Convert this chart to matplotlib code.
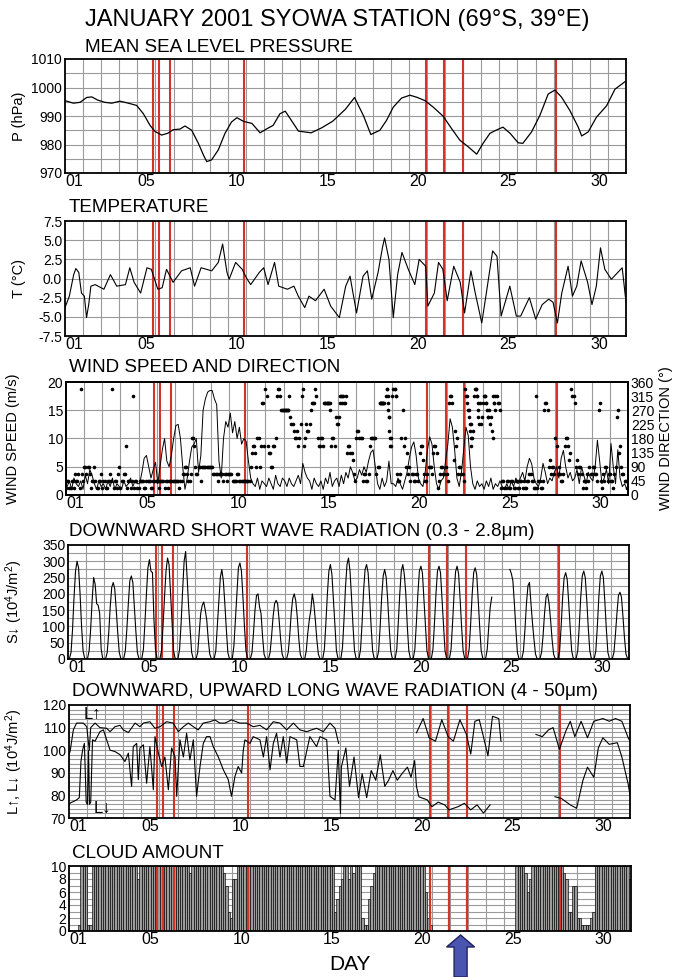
import numpy as np
import matplotlib
matplotlib.use('Agg')
import matplotlib.pyplot as plt
from matplotlib.patches import Polygon
from matplotlib.transforms import IdentityTransform

plt.rcParams['font.family'] = ['Liberation Sans', 'DejaVu Sans']
plt.rcParams['mathtext.default'] = 'regular'
plt.rcParams['axes.unicode_minus'] = False

# ------------------------------------------------------------------ data
event_days = [5.88, 6.21, 6.80, 10.89, 20.93, 21.94, 22.97, 28.11]
tick_days = [1, 5, 10, 15, 20, 25, 30]
tick_labels = ['01', '05', '10', '15', '20', '25', '30']
arrow_day = 22.6

# mean sea level pressure (hPa)
pres_day = [1.0, 1.46, 1.83, 2.2, 2.48, 2.8, 3.2, 3.58, 4.04, 4.5, 4.96, 5.33, 5.7,
            5.97, 6.34, 6.7, 6.98, 7.35, 7.63, 8.0, 8.37, 8.65, 8.83, 9.1, 9.47,
            9.84, 10.2, 10.5, 10.87, 11.33, 11.78, 12.15, 12.5, 12.88, 13.17, 13.9,
            14.6, 15.2, 15.8, 16.5, 17.0, 17.5, 17.9, 18.4, 18.77, 19.14, 19.6,
            20.06, 20.43, 20.89, 21.35, 21.9, 22.36, 22.82, 23.28, 23.75, 24.1,
            24.48, 24.75, 25.2, 25.6, 26.04, 26.3, 26.78, 27.24, 27.7, 28.07, 28.44,
            28.9, 29.36, 29.55, 29.91, 30.37, 30.93, 31.39, 32.0]
pres_hpa = [995.4, 994.5, 994.8, 996.5, 996.7, 995.6, 994.8, 994.5, 995.2, 994.5,
            993.7, 990.8, 986.7, 984.6, 983.3, 984.0, 985.2, 985.4, 986.5, 985.0,
            980.4, 976.3, 974.0, 974.6, 978.1, 983.9, 987.9, 989.4, 988.1, 987.4,
            984.1, 985.5, 986.7, 990.8, 991.7, 984.7, 984.1, 985.9, 988.2, 992.4,
            996.5, 990.0, 983.5, 985.0, 988.5, 993.1, 996.3, 997.3, 996.6, 995.4,
            993.1, 989.9, 985.6, 981.5, 979.2, 976.6, 980.4, 983.9, 984.8, 986.1,
            983.9, 980.6, 980.4, 984.4, 990.2, 997.7, 999.1, 996.6, 991.9, 986.1,
            983.0, 984.4, 989.6, 993.6, 999.4, 1002.3]

# air temperature (deg C)
temp_day = [1.00, 1.24, 1.48, 1.60, 1.76, 1.91, 2.07, 2.19, 2.31, 2.43, 2.67, 3.15,
            3.51, 3.86, 4.34, 4.58, 4.82, 5.18, 5.53, 5.77, 6.13, 6.37, 6.61, 6.97,
            7.44, 7.92, 8.16, 8.52, 9.11, 9.47, 9.71, 9.95, 10.07, 10.43, 10.79,
            11.02, 11.26, 11.74, 11.98, 12.22, 12.58, 12.81, 13.29, 13.65, 13.89,
            14.25, 14.48, 14.84, 15.32, 15.68, 16.16, 16.51, 16.75, 17.11, 17.47,
            17.71, 17.95, 18.30, 18.54, 18.66, 18.90, 19.14, 19.38, 19.62, 19.97,
            20.33, 20.57, 20.93, 21.05, 21.41, 21.64, 21.88, 22.12, 22.48, 22.84,
            23.08, 23.43, 23.67, 24.03, 24.27, 24.63, 24.87, 25.10, 25.58, 25.94,
            26.18, 26.66, 27.01, 27.37, 27.73, 27.97, 28.21, 28.45, 28.80, 29.04,
            29.28, 29.52, 29.88, 30.12, 30.36, 30.59, 30.83, 31.19, 31.43, 31.79, 32.0]
temp_c = [-3.8, -2.3, 0.5, 1.3, 0.8, -1.9, -2.3, -5.1, -3.4, -1.0, -0.8, -1.4,
          0.5, -1.0, -0.8, 1.4, -0.5, -1.9, 1.4, 1.2, -1.4, -1.2, 1.2, -0.5,
          1.0, 1.4, -1.0, 1.4, 1.0, 2.1, 4.5, 0.8, -0.1, 2.1, 1.2,
          0.1, -0.8, 0.8, 1.4, -0.8, 2.1, -1.0, -1.4, -1.0, -2.3,
          -3.8, -2.3, -2.9, -1.4, -3.6, -5.1, -1.0, 0.3, -4.5, 0.3,
          1.0, -2.7, 0.8, 4.0, 5.3, 2.5, -5.1, 0.5, 3.4, 1.2,
          -0.8, 2.5, 1.6, -3.6, -1.9, 2.1, 1.2, -2.9, 1.6, -0.5,
          -4.5, 1.0, -1.9, -5.8, -2.1, 3.6, 2.9, -4.9, -1.0, -4.9,
          -4.9, -2.5, -5.3, -3.4, -2.7, -3.1, -5.8, -1.9, 1.6, -2.3,
          -1.0, 2.3, -0.5, -3.4, -1.0, 4.0, 1.2, -0.1, 0.5, 1.4, -3.1]

# wind speed (m/s), eight 3-hourly values per day
wind_speed = [
    [1.5, 2.5, 1.0, 3.0, 2.0, 1.5, 2.5, 1.0],
    [3.5, 2.0, 4.5, 3.5, 2.0, 1.0, 2.5, 1.5],
    [2.0, 1.0, 2.5, 1.5, 3.0, 1.0, 2.0, 1.5],
    [1.0, 2.5, 1.5, 2.0, 3.0, 1.5, 2.5, 2.0],
    [2.0, 4.0, 6.5, 7.0, 5.0, 3.0, 4.5, 5.8],
    [2.0, 5.0, 8.0, 10.0, 6.0, 5.0, 7.0, 10.0],
    [12.3, 12.5, 10.0, 5.0, 1.0, 3.0, 6.0, 8.5],
    [9.0, 10.0, 4.0, 7.0, 15.0, 17.0, 18.2, 18.5],
    [18.5, 17.0, 16.0, 6.0, 3.0, 10.0, 13.0, 12.0],
    [14.5, 11.0, 13.0, 10.0, 12.0, 9.0, 10.0, 9.5],
    [6.0, 3.0, 2.0, 1.5, 3.0, 1.0, 2.5, 2.0],
    [1.5, 3.0, 2.0, 1.0, 3.5, 2.0, 1.5, 3.0],
    [2.5, 1.5, 3.0, 2.0, 1.5, 2.5, 3.5, 2.0],
    [5.6, 4.0, 3.0, 2.5, 1.0, 3.0, 2.0, 1.5],
    [2.5, 1.0, 3.0, 2.0, 4.0, 1.5, 2.5, 3.0],
    [1.5, 3.5, 2.0, 4.0, 3.0, 5.0, 4.0, 2.5],
    [3.0, 4.5, 3.5, 5.0, 4.0, 6.0, 7.5, 8.0],
    [5.0, 2.0, 1.0, 3.0, 1.5, 2.5, 6.0, 2.0],
    [2.0, 1.5, 3.0, 2.0, 1.0, 2.5, 4.0, 6.5],
    [8.5, 9.4, 7.0, 3.0, 2.0, 1.5, 4.0, 8.0],
    [10.3, 9.0, 5.0, 2.0, 1.0, 2.5, 3.0, 6.0],
    [9.0, 13.5, 12.0, 8.0, 3.0, 1.5, 4.0, 8.0],
    [12.0, 10.5, 5.0, 2.0, 1.0, 2.5, 1.5, 2.0],
    [1.0, 2.5, 1.5, 3.0, 1.0, 2.0, 1.5, 2.5],
    [1.5, 1.0, 2.0, 1.0, 2.5, 1.5, 3.0, 2.0],
    [3.0, 4.0, 2.5, 5.0, 6.5, 5.5, 3.0, 2.0],
    [1.5, 3.0, 5.6, 4.0, 2.0, 3.0, 2.5, 4.0],
    [5.0, 3.0, 6.5, 7.9, 5.0, 3.0, 4.0, 2.5],
    [3.0, 4.5, 2.0, 5.0, 3.5, 2.0, 4.0, 3.0],
    [2.5, 5.0, 9.7, 6.0, 2.0, 3.0, 4.5, 2.0],
    [9.1, 5.0, 2.0, 8.0, 3.0, 1.5, 2.0, 1.0],
]

# wind direction (deg) reported at hh:30 of each 3-hour block
wind_dir = [
    [45, 22.5, 45, 22.5, 45, 67.5, 337.5, 45],
    [90, 90, 67.5, 45, 90, 22.5, 45, 67.5],
    [45, 22.5, 45, 67.5, 337.5, 45, 22.5, 90],
    [45, 67.5, 157.5, 45, 22.5, 315, 45, 22.5],
    [45, 45, 22.5, 45, 45, 22.5, 45, 45],
    [45, 45, 45, 22.5, 45, 45, 45, 45],
    [45, 45, 45, 67.5, 90, 67.5, 45, 180],
    [157.5, 67.5, 90, 45, 90, 90, 90, 90],
    [90, 67.5, 67.5, 67.5, 67.5, 45, 67.5, 67.5],
    [67.5, 45, 45, 67.5, 45, 45, 45, 45],
    [45, 90, 157.5, 135, 180, 90, 292.5, 157.5],
    [315, 135, 90, 157.5, 180, 337.5, 315, 270],
    [270, 270, 315, 225, 202.5, 180, 157.5, 225],
    [337.5, 180, 202.5, 225, 292.5, 292.5, 315, 157.5],
    [180, 157.5, 292.5, 292.5, 270, 180, 157.5, 225],
    [247.5, 315, 292.5, 315, 157.5, 135, 112.5, 45],
    [202.5, 180, 180, 67.5, 45, 67.5, 180, 180],
    [180, 90, 292.5, 292.5, 292.5, 337.5, 247.5, 180],
    [337.5, 315, 45, 67.5, 270, 180, 135, 90],
    [67.5, 45, 67.5, 45, 157.5, 112.5, 45, 67.5],
    [90, 67.5, 157.5, 135, 45, 90, 67.5, 90],
    [45, 315, 292.5, 202.5, 180, 90, 67.5, 45],
    [315, 270, 225, 202.5, 337.5, 315, 292.5, 247.5],
    [315, 292.5, 270, 247.5, 180, 315, 292.5, 270],
    [45, 22.5, 45, 22.5, 45, 22.5, 45, 22.5],
    [45, 22.5, 22.5, 45, 67.5, 45, 22.5, 315],
    [45, 22.5, 45, 292.5, 270, 112.5, 90, 67.5],
    [157.5, 90, 45, 67.5, 180, 157.5, 135, 315],
    [292.5, 112.5, 90, 67.5, 45, 22.5, 45, 67.5],
    [90, 67.5, 45, 292.5, 22.5, 45, 90, 67.5],
    [45, 22.5, 90, 270, 157.5, 67.5, 45, 22.5],
]
# wind direction (deg) reported at the start of each 3-hour block
wind_dir_b = [
    [22.5, 45, 22.5, 45, 67.5, 45, 22.5, 67.5],
    [90, 67.5, 90, 22.5, 45, 45, 22.5, 45],
    [22.5, 45, 22.5, 45, 45, 22.5, 45, 67.5],
    [22.5, 45, 67.5, 22.5, 45, 45, 22.5, 45],
    [22.5, 45, 45, 22.5, 45, 45, 22.5, 45],
    [45, 22.5, 45, 45, 45, 22.5, 45, 45],
    [45, 45, 22.5, 45, 67.5, 90, 45, 67.5],
    [180, 90, 67.5, 90, 90, 90, 90, 90],
    [90, 67.5, 67.5, 45, 67.5, 67.5, 67.5, 45],
    [67.5, 67.5, 45, 45, 67.5, 45, 45, 45],
    [45, 45, 135, 157.5, 90, 180, 157.5, 292.5],
    [337.5, 157.5, 135, 90, 157.5, 315, 337.5, 270],
    [270, 270, 270, 247.5, 225, 180, 202.5, 180],
    [315, 157.5, 225, 202.5, 270, 292.5, 337.5, 180],
    [157.5, 180, 292.5, 292.5, 292.5, 157.5, 180, 247.5],
    [225, 292.5, 315, 292.5, 135, 157.5, 135, 67.5],
    [180, 202.5, 180, 45, 67.5, 45, 157.5, 180],
    [180, 67.5, 90, 292.5, 292.5, 315, 270, 157.5],
    [315, 337.5, 67.5, 45, 180, 157.5, 90, 67.5],
    [45, 67.5, 45, 67.5, 135, 157.5, 67.5, 45],
    [90, 90, 135, 157.5, 22.5, 67.5, 90, 67.5],
    [67.5, 292.5, 315, 112.5, 157.5, 67.5, 90, 67.5],
    [337.5, 292.5, 247.5, 180, 315, 337.5, 270, 225],
    [292.5, 315, 247.5, 225, 202.5, 292.5, 315, 292.5],
    [22.5, 45, 22.5, 45, 22.5, 45, 22.5, 45],
    [22.5, 45, 45, 22.5, 45, 67.5, 45, 22.5],
    [22.5, 45, 22.5, 270, 292.5, 90, 67.5, 90],
    [180, 67.5, 67.5, 45, 157.5, 180, 112.5, 337.5],
    [315, 90, 67.5, 90, 22.5, 45, 67.5, 90],
    [67.5, 90, 67.5, 270, 45, 67.5, 90, 45],
    [67.5, 45, 67.5, 247.5, 135, 90, 67.5, 45],
]
# additional hourly direction reports during the veering episodes
extra_dir_day = [18.72, 18.75, 18.78, 18.80, 18.83, 18.86, 18.90, 19.15, 19.18,
                 23.10, 23.25, 23.28, 23.30, 23.33, 23.36, 23.60, 23.65, 23.70,
                 23.75, 23.80, 24.10, 24.15, 24.20, 24.30, 24.55, 24.60, 24.65,
                 12.95, 13.05, 13.15, 13.25, 15.30, 15.38, 15.45, 15.55, 16.10,
                 16.20, 16.30, 18.30, 18.38, 18.45, 18.50]
extra_dir_deg = [337.5, 315, 292.5, 247.5, 202.5, 180, 157.5, 337.5, 315,
                 315, 270, 225, 202.5, 180, 157.5, 337.5, 315, 292.5,
                 247.5, 225, 315, 292.5, 270, 247.5, 315, 292.5, 270,
                 270, 270, 270, 270, 292.5, 292.5, 292.5, 292.5, 315,
                 292.5, 315, 292.5, 292.5, 292.5, 292.5]

# downward short wave radiation, twelve 2-hourly values per day
sw_down = [
    [0, 2, 20, 90, 190, 270, 300, 280, 200, 100, 25, 3],
    [0, 3, 25, 90, 180, 250, 230, 170, 165, 140, 30, 3],
    [0, 2, 20, 80, 160, 220, 235, 215, 150, 80, 20, 2],
    [0, 3, 25, 90, 170, 240, 255, 235, 160, 85, 20, 2],
    [0, 3, 30, 110, 200, 280, 305, 270, 265, 120, 30, 3],
    [0, 2, 25, 100, 190, 270, 310, 290, 200, 110, 25, 3],
    [0, 3, 30, 110, 210, 300, 330, 250, 160, 90, 20, 2],
    [0, 2, 20, 80, 140, 165, 175, 150, 120, 60, 15, 2],
    [0, 3, 25, 100, 170, 250, 275, 240, 170, 90, 20, 2],
    [0, 3, 40, 120, 200, 280, 295, 270, 190, 100, 25, 3],
    [0, 2, 20, 80, 150, 195, 200, 160, 140, 70, 15, 2],
    [0, 2, 20, 70, 130, 170, 180, 170, 120, 60, 15, 2],
    [0, 2, 20, 70, 140, 185, 200, 180, 130, 65, 15, 2],
    [0, 2, 25, 80, 120, 150, 200, 170, 120, 60, 15, 2],
    [0, 3, 30, 110, 200, 270, 290, 260, 180, 100, 25, 3],
    [0, 3, 35, 120, 220, 290, 310, 270, 190, 100, 25, 3],
    [0, 3, 30, 110, 210, 275, 290, 265, 190, 100, 25, 3],
    [0, 3, 25, 100, 190, 255, 275, 250, 180, 95, 25, 3],
    [0, 3, 30, 110, 200, 270, 290, 260, 200, 100, 25, 3],
    [0, 3, 30, 110, 200, 270, 285, 265, 185, 100, 25, 3],
    [0, 3, 30, 110, 200, 270, 285, 265, 185, 100, 25, 3],
    [0, 3, 30, 110, 200, 268, 285, 262, 185, 98, 25, 3],
    [0, 3, 30, 108, 198, 265, 280, 260, 182, 98, 25, 3],
    [0, 3, 30, 100, 160, 190, np.nan, np.nan, np.nan, np.nan, np.nan, np.nan],
    [np.nan, np.nan, np.nan, np.nan, np.nan, 275, 262, 240, 170, 90, 20, 2],
    [0, 3, 25, 90, 170, 225, 235, 170, 110, 60, 15, 2],
    [0, 2, 20, 70, 140, 190, 200, 170, 120, 60, 15, 2],
    [0, 3, 25, 100, 190, 250, 265, 245, 175, 95, 25, 3],
    [0, 3, 25, 100, 190, 255, 270, 250, 180, 95, 25, 3],
    [0, 3, 25, 100, 190, 255, 270, 250, 175, 90, 20, 2],
    [0, 2, 20, 75, 140, 195, 205, 190, 130, 65, 15, 2],
]

# upward long wave radiation (10^4 J/m^2); NaN marks missing data
lw_up_day = [1.0, 1.06, 1.24, 1.42, 1.79, 1.98, 2.12, 2.20, 2.44, 2.71, 3.08, 3.27,
             3.54, 3.82, 4.00, 4.28, 4.65, 4.92, 5.11, 5.47, 5.75, 6.03, 6.39, 6.76,
             7.04, 7.32, 7.59, 7.87, 8.14, 8.42, 8.79, 9.06, 9.34, 9.62, 9.98, 10.44,
             10.81, 11.18, 11.55, 11.92, 12.29, 12.66, 13.03, 13.40, 13.76, 14.13,
             14.41, 14.68, 15.05, 15.42, 15.70, 15.90, 16.0,
             20.2, 20.57, 20.9, 21.25, 21.6, 21.95, 22.24, 22.6, 22.96, 23.2, 23.43,
             23.67, 23.9, 24.15, 24.4, 24.75, 24.87, 25.0,
             26.8, 27.15, 27.5, 27.75, 28.1, 28.45, 28.7, 28.95, 29.3, 29.65, 30.0,
             30.5, 30.85, 31.2, 31.55, 31.9, 32.0]
lw_up = [98, 99.4, 109, 112, 112, 110.4, 100, 110, 112, 110, 109.7, 108.2,
         110.4, 111, 109, 107.8, 112, 110.4, 112, 112.6, 109.7, 110.4, 112.6, 112,
         108.2, 110.4, 112, 110.4, 109, 112, 112.6, 113.4, 112, 112, 113.4, 112,
         112, 110.4, 111, 109, 112.6, 112, 109, 112, 109, 108.2,
         109, 109.7, 108.2, 112, 109.7, 103, np.nan,
         107.7, 114, 105.5, 104, 113.5, 106, 104, 113.5, 107, 98.3, 112.8,
         113.5, 106, 97.5, 115, 114, 104, np.nan,
         107, 106, 109, 110, 100.4, 108.4, 112.8, 106, 112.8, 105.5, 112.8,
         114, 112.8, 114, 112.8, 105.5, 104]

# downward long wave radiation (10^4 J/m^2)
lw_down_day = [1.0, 1.06, 1.42, 1.57, 1.66, 1.75, 1.85, 1.95, 2.02, 2.08, 2.13, 2.20,
               2.30, 2.44, 2.71, 2.90, 3.08, 3.27, 3.54, 3.82, 4.09, 4.28, 4.37, 4.46,
               4.55, 4.74, 4.83, 4.92, 5.11, 5.29, 5.47, 5.66, 5.75, 5.94, 6.12, 6.30,
               6.49, 6.67, 6.86, 6.95, 7.13, 7.32, 7.50, 7.68, 7.87, 8.05, 8.24, 8.42,
               8.60, 8.79, 8.97, 9.25, 9.53, 9.80, 9.98, 10.17, 10.35, 10.54, 10.63,
               10.72, 11.00, 11.18, 11.55, 11.74, 11.92, 12.11, 12.29, 12.47, 12.66,
               12.84, 13.03, 13.21, 13.58, 13.76, 13.95, 14.31, 14.68, 14.87, 15.24,
               15.42, 15.70, 15.88, 16.0, 16.05, 16.3, 16.5, 16.75, 17.0, 17.2, 17.45,
               17.7, 17.95, 18.2, 18.45, 18.66, 18.9, 19.14, 19.4, 19.7, 19.9, 20.1,
               20.2, 20.33, 20.8, 21.05, 21.4, 21.76, 22.0, 22.5, 22.85, 23.2, 23.55,
               23.9, 24.27, 24.4,
               27.85, 28.2, 28.7, 29.05, 29.4, 29.65, 30.0, 30.25, 30.5, 30.85, 31.3,
               31.55, 31.9, 32.0]
lw_down = [76, 76.6, 78, 79, 95, 100, 103, 77, 76, 100, 76, 77,
           104.6, 104, 108.2, 109, 104.6, 100, 99.4, 98, 95, 98.7, 91, 84,
           101.6, 103, 87, 101, 102.4, 85.4, 101.6, 82.5, 106, 98.7, 92.8, 97,
           82.5, 101, 97, 79.6, 104.6, 97, 107.5, 95.7, 104.6, 79.6, 92.8, 103,
           106, 106, 101.6, 97, 91.3, 87, 79.6, 88.4, 92.8, 89.9, 100,
           104.6, 103, 106, 104.6, 97, 106, 91.3, 103, 107.5, 97,
           106, 94.3, 106, 104.6, 92.8, 92.8, 106, 101.6, 106, 104.6,
           79.6, 78, 100, 72, 92.5, 101, 84, 97, 79, 89.6, 79,
           91, 86.7, 98, 84, 86.7, 91, 86.7, 89.6, 92.5, 88, 95.4,
           84, 79.4, 78, 75, 77, 75.8, 73.6, 75, 76.5, 73.6, 75.8,
           72.2, 75.8, np.nan,
           79.4, 78.7, 75.8, 74.3, 86.7, 92.5, 88, 101, 105.5, 102.6, 103.3,
           97, 85, 80]

# total cloud amount (tenths), eight 3-hourly observations per day
cloud_tenths = [
    [0, 0, 0, 0, 1, 10, 10, 10],
    [1, 1, 10, 10, 10, 10, 10, 10],
    [10, 10, 10, 10, 10, 10, 10, 10],
    [10, 10, 10, 10, 10, 10, 8, 10],
    [10, 10, 10, 10, 10, 10, 10, 10],
    [10, 10, 10, 10, 10, 10, 10, 10],
    [10, 10, 10, 10, 10, 9, 10, 10],
    [10, 10, 10, 10, 10, 10, 10, 10],
    [10, 10, 10, 10, 9, 7, 3, 2],
    [8, 8, 10, 10, 10, 10, 10, 10],
    [10, 10, 10, 10, 10, 10, 10, 10],
    [10, 10, 10, 10, 10, 10, 10, 10],
    [10, 10, 10, 10, 10, 10, 10, 10],
    [10, 10, 10, 10, 10, 10, 10, 10],
    [10, 10, 10, 10, 10, 3, 5, 7],
    [8, 10, 10, 8, 10, 9, 10, 10],
    [10, 2, 1, 1, 5, 7, 9, 10],
    [10, 10, 10, 10, 10, 10, 10, 10],
    [10, 10, 10, 10, 10, 10, 10, 10],
    [10, 10, 10, 10, 10, 6, 2, 1],
    [0, 0, 0, 0, 0, 0, 0, 0],
    [0, 0, 0, 0, 0, 0, 0, 0],
    [0, 0, 0, 0, 0, 0, 0, 0],
    [0, 0, 0, 0, 0, 0, 0, 0],
    [0, 0, 0, 0, 0, 10, 10, 10],
    [10, 9, 6, 8, 10, 10, 10, 10],
    [10, 10, 10, 10, 10, 10, 10, 10],
    [10, 10, 9, 8, 3, 3, 7, 7],
    [2, 2, 1, 1, 1, 1, 2, 3],
    [10, 10, 10, 10, 10, 10, 10, 10],
    [10, 10, 10, 10, 10, 10, 10, 8],
]

# ------------------------------------------------------------------ layout
FW, FH = 677, 977
fig = plt.figure(figsize=(FW / 100, FH / 100), dpi=100)


def px_axes(left, top, right, bottom):
    return fig.add_axes([left / FW, 1 - bottom / FH, (right - left) / FW, (bottom - top) / FH])


GRID = '#9a9a9a'
RED = '#d2342a'
TICK_FS = 10
LAB_FS = 10.5
SUB_FS = 13.6
UP, DOWN = '\u2191', '\u2193'
FLUX_UNIT = ' (10$^{4}$J/m$^{2}$)'


def style_axes(ax, ylim, yticks, ygrid, ylabel=None, ytl=None, label_x=None):
    ax.set_xlim(1, 32)
    ax.set_ylim(*ylim)
    ax.set_xticks([d + 0.5 for d in tick_days])
    ax.set_xticklabels(tick_labels)
    ax.set_yticks(yticks)
    if ytl is not None:
        ax.set_yticklabels(ytl)
    ax.tick_params(axis='both', which='both', length=0, labelsize=TICK_FS, pad=2)
    ax.tick_params(axis='x', labelsize=TICK_FS + 1.5, pad=1)
    for d in np.arange(2, 32):
        ax.axvline(d, color=GRID, lw=0.8, zorder=1)
    for v in ygrid:
        ax.axhline(v, color=GRID, lw=0.8, zorder=1)
    for d in event_days:
        ax.axvline(d, color=RED, lw=1.5, zorder=2)
    for s in ax.spines.values():
        s.set_linewidth(1.3)
        s.set_zorder(5)
    if ylabel:
        ax.set_ylabel(ylabel, fontsize=LAB_FS)
        ax.yaxis.set_label_coords(label_x, 0.5)


def subtitle(x, y, s, size=SUB_FS):
    fig.text(x / FW, 1 - y / FH, s, fontsize=size, ha='left', va='center')


fig.text(85 / FW, 1 - 20 / FH, 'JANUARY 2001 SYOWA STATION (69\u00b0S, 39\u00b0E)',
         fontsize=17, ha='left', va='center')

# ---- pressure
subtitle(85, 47, 'MEAN SEA LEVEL PRESSURE')
ax1 = px_axes(65, 59, 626, 173)
style_axes(ax1, (970, 1010), [970, 980, 990, 1000, 1010],
           np.arange(975, 1010, 5), 'P (hPa)', label_x=-(65 - 26) / 561)
ax1.plot(pres_day, pres_hpa, color='k', lw=0.9, zorder=3)

# ---- temperature
subtitle(69, 207, 'TEMPERATURE')
ax2 = px_axes(65, 221, 626, 336)
tt = [-7.5, -5.0, -2.5, 0.0, 2.5, 5.0, 7.5]
style_axes(ax2, (-7.5, 7.5), tt, tt[1:-1], 'T (\u00b0C)',
           ytl=['%.1f' % v for v in tt], label_x=-(65 - 26) / 561)
ax2.plot(temp_day, temp_c, color='k', lw=0.8, zorder=3)

# ---- wind
subtitle(69, 368, 'WIND SPEED AND DIRECTION')
ax3 = px_axes(66, 382, 628, 495)
style_axes(ax3, (0, 20), [0, 5, 10, 15, 20], [5, 10, 15],
           'WIND SPEED (m/s)', label_x=-(66 - 20) / 562)
t8 = np.array([d + k / 8 for d in range(1, 32) for k in range(8)])
ax3.plot(t8 + 1 / 16, np.ravel(wind_speed), color='k', lw=0.7, zorder=3)
ax3b = ax3.twinx()
ax3b.set_ylim(0, 360)
ax3b.set_yticks(np.arange(0, 361, 45))
ax3b.tick_params(axis='y', length=0, labelsize=TICK_FS, pad=2)
dot = dict(ls='none', marker='o', color='k', ms=2.6, mew=0, zorder=4)
ax3b.plot(t8 + 1 / 16, np.ravel(wind_dir), **dot)
ax3b.plot(t8, np.ravel(wind_dir_b), **dot)
ax3b.plot(extra_dir_day, extra_dir_deg, **dot)
ax3b.set_ylabel('WIND DIRECTION (\u00b0)', fontsize=LAB_FS, rotation=90)
ax3b.yaxis.set_label_coords(1 + (659 - 628) / 562, 0.5)
for s in ax3b.spines.values():
    s.set_linewidth(1.3)

# ---- short wave
subtitle(69, 532, 'DOWNWARD SHORT WAVE RADIATION (0.3 - 2.8\u03bcm)')
ax4 = px_axes(68, 545, 629, 659)
style_axes(ax4, (0, 350), np.arange(0, 351, 50), np.arange(25, 350, 25),
           'S' + DOWN + FLUX_UNIT, label_x=-(68 - 25) / 561)
t12 = np.array([d + k / 12 for d in range(1, 32) for k in range(12)])
ax4.plot(np.append(t12, 32.0), np.append(np.ravel(sw_down), 0), color='k', lw=0.8, zorder=3)

# ---- long wave
subtitle(72, 692, 'DOWNWARD, UPWARD LONG WAVE RADIATION (4 - 50\u03bcm)')
ax5 = px_axes(69, 705, 630, 818)
style_axes(ax5, (70, 120), np.arange(70, 121, 10), np.arange(72, 120, 2),
           'L' + UP + ', L' + DOWN + FLUX_UNIT, label_x=-(69 - 25) / 561)
ax5.plot(lw_up_day, lw_up, color='k', lw=0.8, zorder=3)
ax5.plot(lw_down_day, lw_down, color='k', lw=0.8, zorder=3)
ax5.text(2.3, 115.6, 'L' + UP, fontsize=12, ha='center', va='center', zorder=6)
ax5.text(2.85, 74.4, 'L' + DOWN, fontsize=12, ha='center', va='center', zorder=6)

# ---- cloud amount
subtitle(72, 853, 'CLOUD AMOUNT')
ax6 = px_axes(69, 866, 631, 931)
style_axes(ax6, (0, 10), np.arange(0, 11, 2), np.arange(1, 10, 1))
ax6.bar(t8, np.ravel(cloud_tenths), width=1 / 8, align='edge',
        color='#9c9c9c', edgecolor='k', lw=0.45, zorder=3)
for d in event_days:
    ax6.axvline(d, color=RED, lw=1.5, zorder=4)
fig.text(350 / FW, 1 - 965 / FH, 'DAY', fontsize=15, ha='center', va='center')

# ---- arrow marking the clear-sky period
fig.canvas.draw()
xa = ax6.transData.transform((arrow_day, 0))[0]
tip = FH - 935
hb = FH - 947
bot = FH - 977
pts = [(xa, tip), (xa + 14, hb), (xa + 6.5, hb), (xa + 6.5, bot),
       (xa - 6.5, bot), (xa - 6.5, hb), (xa - 14, hb)]
fig.add_artist(Polygon(pts, closed=True, transform=IdentityTransform(),
                       facecolor='#4a55b0', edgecolor='#1e2260', lw=1.0))

fig.savefig('out.png', dpi=100)
